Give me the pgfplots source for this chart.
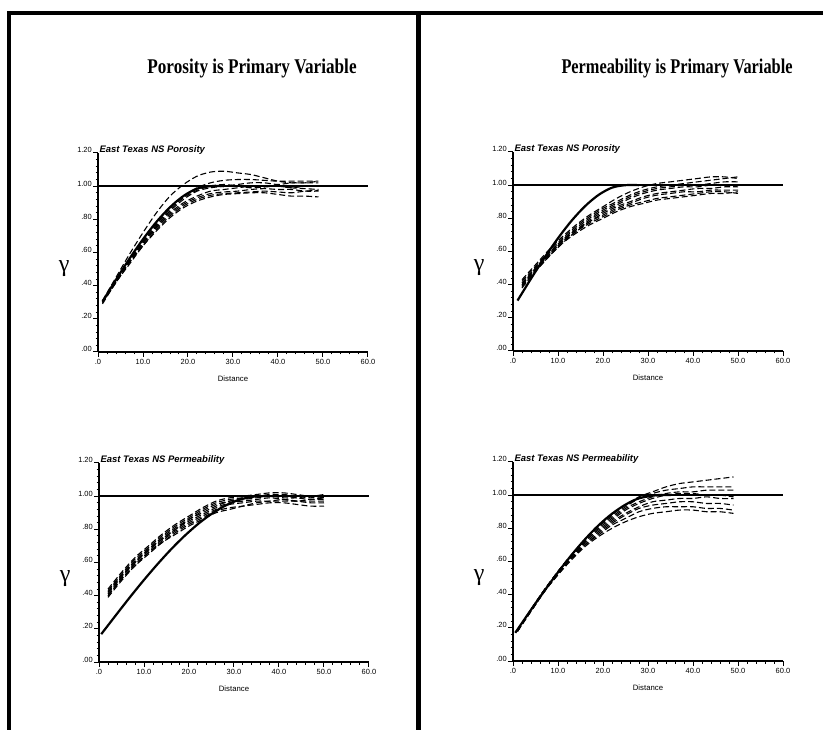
\documentclass[border=0pt]{standalone}
\usepackage{fontspec}
\setmainfont{Liberation Serif}
\setsansfont{Liberation Sans}
\usepackage{pgfplots}
\usepackage{pgfplotstable}
\pgfplotsset{compat=1.18}

% model variograms (solid)
\pgfplotstableread{
x y
1 .304
4 .436
7 .563
10 .680
13 .785
16 .873
19 .941
22 .985
25 1.0
28 1.0
}\modPor

\pgfplotstableread{
x y
0.5 .168
4 .291
7 .395
10 .495
13 .590
16 .679
19 .760
22 .832
25 .893
28 .942
31 .977
34 .996
36 1.0
39 1.0
}\modPermA

\pgfplotstableread{
x y
0.5 .170
4 .309
7 .424
10 .535
13 .639
16 .734
19 .818
22 .888
25 .943
28 .981
32 1.0
35 1.0
}\modPermB

% simulated variograms (dashed), one column per realisation
\pgfplotstableread{
x c1 c2 c3 c4 c5 c6 c7 c8
1 .31 .30 .30 .30 .30 .30 .29 .30
4 .45 .43 .43 .43 .42 .42 .42 .43
7 .59 .56 .55 .55 .54 .54 .53 .55
10 .72 .67 .66 .66 .65 .64 .64 .66
13 .84 .78 .76 .76 .75 .74 .73 .77
16 .94 .87 .85 .84 .83 .82 .81 .86
19 1.01 .94 .92 .90 .89 .88 .87 .93
22 1.06 .99 .97 .94 .93 .92 .91 .975
25 1.085 1.02 .99 .97 .955 .945 .935 1.00
28 1.09 1.035 1.00 .98 .965 .955 .95 1.01
31 1.08 1.04 1.01 .99 .97 .96 .955 1.00
34 1.07 1.04 1.02 1.00 .98 .965 .96 .99
37 1.05 1.035 1.02 1.00 .985 .97 .96 .995
40 1.03 1.03 1.01 1.00 .98 .965 .95 1.00
43 1.02 1.03 1.02 .99 .98 .96 .94 .99
46 1.02 1.03 1.02 1.00 .97 .97 .94 .985
49 1.02 1.03 1.03 1.00 .97 .975 .935 .98
}\simA

\pgfplotstableread{
x c1 c2 c3 c4 c5 c6 c7 c8
2 .43 .42 .41 .40 .40 .39 .38 .39
5 .52 .51 .50 .50 .49 .49 .48 .48
8 .61 .60 .59 .59 .58 .58 .57 .57
11 .69 .68 .67 .67 .66 .66 .65 .65
14 .76 .75 .74 .73 .73 .72 .72 .71
17 .82 .81 .80 .79 .78 .78 .77 .76
20 .87 .86 .85 .84 .83 .82 .81 .80
23 .92 .90 .89 .88 .87 .86 .85 .84
26 .96 .94 .93 .92 .90 .89 .88 .87
29 .99 .97 .96 .95 .93 .92 .90 .89
32 1.01 .99 .98 .97 .95 .94 .92 .91
35 1.02 1.00 .99 .98 .96 .95 .93 .92
38 1.03 1.01 1.00 .99 .97 .96 .94 .93
41 1.04 1.02 1.00 .99 .98 .96 .95 .94
44 1.05 1.03 1.01 1.00 .98 .97 .96 .95
47 1.05 1.04 1.02 1.00 .99 .97 .96 .95
50 1.04 1.05 1.02 1.00 .99 .97 .95 .96
}\simB

\pgfplotstableread{
x c1 c2 c3 c4 c5 c6 c7 c8
2 .44 .43 .42 .42 .41 .40 .40 .39
5 .54 .53 .52 .52 .51 .50 .50 .49
8 .63 .62 .61 .60 .60 .59 .58 .58
11 .70 .69 .68 .68 .67 .66 .66 .65
14 .77 .76 .75 .74 .74 .73 .72 .72
17 .83 .82 .81 .80 .80 .79 .78 .77
20 .88 .87 .86 .86 .85 .84 .83 .82
23 .93 .92 .91 .90 .89 .88 .87 .86
26 .97 .96 .95 .94 .93 .92 .91 .90
29 .99 .98 .97 .97 .96 .95 .93 .92
32 1.00 .99 .99 .98 .97 .96 .94 .94
35 1.01 1.00 1.00 .99 .98 .97 .95 .96
38 1.02 1.01 1.00 1.00 .99 .97 .96 .97
41 1.02 1.01 1.00 .99 .98 .97 .96 .98
44 1.01 1.00 .99 .99 .97 .97 .95 .97
47 1.00 .99 .98 1.00 .98 .97 .94 .96
50 1.01 1.00 .99 .99 .98 .97 .94 .96
}\simC

\pgfplotstableread{
x c1 c2 c3 c4 c5 c6 c7 c8
1 .18 .18 .18 .18 .18 .18 .18 .18
4 .31 .31 .31 .31 .31 .30 .30 .30
7 .43 .43 .43 .43 .42 .42 .42 .42
10 .54 .54 .54 .53 .53 .53 .52 .52
13 .64 .64 .64 .63 .63 .62 .62 .61
16 .73 .73 .72 .72 .71 .70 .70 .69
19 .81 .81 .80 .79 .78 .77 .76 .75
22 .88 .87 .86 .85 .84 .83 .82 .80
25 .94 .93 .92 .91 .89 .88 .86 .84
28 .99 .98 .96 .95 .93 .92 .90 .87
31 1.02 1.01 .99 .98 .96 .94 .92 .89
34 1.05 1.03 1.01 1.00 .97 .95 .93 .90
37 1.07 1.04 1.02 1.01 .98 .96 .93 .91
40 1.08 1.05 1.02 1.01 .98 .96 .93 .91
43 1.09 1.05 1.03 1.00 .99 .95 .92 .90
46 1.10 1.05 1.03 1.00 .98 .95 .92 .90
49 1.11 1.05 1.03 .99 .98 .94 .91 .89
}\simD

\pgfplotsset{
  vario/.style={
    scale only axis, width=270bp, height=199bp,
    xmin=0, xmax=60, ymin=0, ymax=1.2,
    axis lines=left, axis line style={-, line width=1.4bp},
    xtick={0,10,20,30,40,50,60},
    xticklabels={.0,10.0,20.0,30.0,40.0,50.0,60.0},
    ytick={0,0.2,0.4,0.6,0.8,1.0,1.2},
    yticklabels={.00,.20,.40,.60,.80,1.00,1.20},
    minor x tick num=4, minor y tick num=4,
    tick align=outside, major tick length=5bp, minor tick length=2.5bp,
    tick style={black, line width=1bp},
    tick label style={font=\sffamily\fontsize{7.5}{8}\selectfont},
    yticklabel style={anchor=base east, inner sep=1bp},
    xticklabel style={inner sep=2bp},
    xlabel={Distance},
    xlabel style={font=\sffamily\fontsize{7.8}{8}\selectfont,
      at={(axis description cs:0.5,-0.15)}, anchor=base},
    ylabel={γ},
    ylabel style={font=\fontsize{24}{26}\selectfont,
      at={(axis description cs:-0.125,0.42)}, rotate=-90, anchor=center},
    clip=false,
  },
  sill/.style={line width=2.2bp, black},
  model/.style={line width=2.2bp, black, smooth},
  sim/.style={line width=1.1bp, black, smooth, dash pattern=on 6bp off 3bp},
}

\newcommand{\subttl}[1]{\node[anchor=base west, inner sep=0pt,
  font=\sffamily\bfseries\itshape\fontsize{9.5}{10}\selectfont]
  at (rel axis cs:0.005,1.0) {#1};}

\begin{document}
\begin{tikzpicture}
\useasboundingbox (0bp,0bp) rectangle (823bp,730bp);
% frame
\draw[line width=4.5bp] (7bp,717bp) -- (823bp,717bp);
\draw[line width=4bp] (9bp,719bp) -- (9bp,0bp);
\draw[line width=5bp] (418bp,719bp) -- (418bp,0bp);

\node[anchor=base, font=\bfseries\fontsize{21}{22}\selectfont]
  at (252bp,656bp) {\scalebox{0.82}[1]{Porosity is Primary Variable}};
\node[anchor=base, font=\bfseries\fontsize{21}{22}\selectfont]
  at (677bp,656bp) {\scalebox{0.78}[1]{Permeability is Primary Variable}};

% top left
\begin{axis}[vario, at={(98bp,378bp)}, anchor=south west]
\addplot[sill] coordinates {(0,1) (60,1)};
\pgfplotsinvokeforeach{1,...,8}{\addplot[sim] table[x=x,y=c#1] {\simA};}
\addplot[model] table[x=x,y=y] {\modPor};
\subttl{East Texas NS Porosity}
\end{axis}

% top right
\begin{axis}[vario, at={(513bp,379bp)}, anchor=south west]
\addplot[sill] coordinates {(0,1) (60,1)};
\pgfplotsinvokeforeach{1,...,8}{\addplot[sim] table[x=x,y=c#1] {\simB};}
\addplot[model] table[x=x,y=y] {\modPor};
\subttl{East Texas NS Porosity}
\end{axis}

% bottom left
\begin{axis}[vario, at={(99bp,68bp)}, anchor=south west]
\addplot[sill] coordinates {(0,1) (60,1)};
\pgfplotsinvokeforeach{1,...,8}{\addplot[sim] table[x=x,y=c#1] {\simC};}
\addplot[model] table[x=x,y=y] {\modPermA};
\subttl{East Texas NS Permeability}
\end{axis}

% bottom right
\begin{axis}[vario, at={(513bp,69bp)}, anchor=south west]
\addplot[sill] coordinates {(0,1) (60,1)};
\pgfplotsinvokeforeach{1,...,8}{\addplot[sim] table[x=x,y=c#1] {\simD};}
\addplot[model] table[x=x,y=y] {\modPermB};
\subttl{East Texas NS Permeability}
\end{axis}
\end{tikzpicture}
\end{document}
